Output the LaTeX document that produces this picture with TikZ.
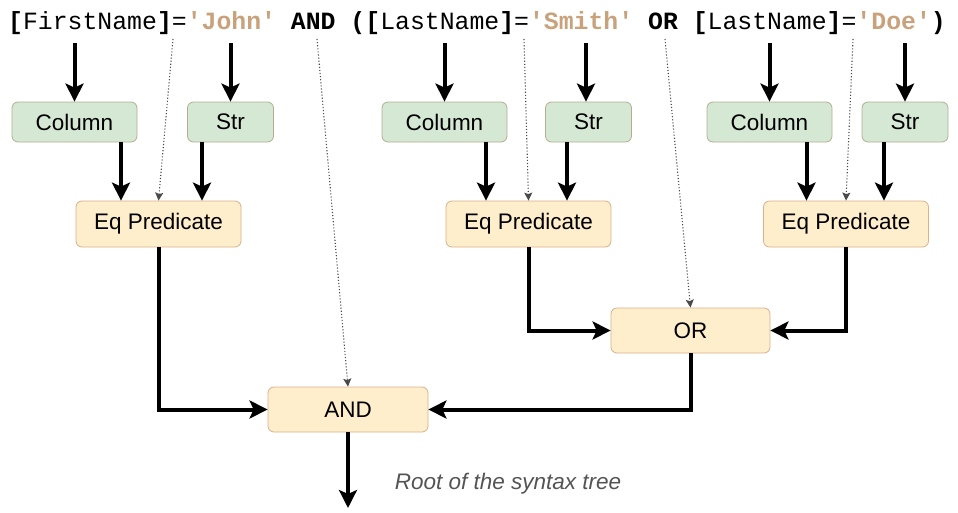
\documentclass[tikz,border=0pt]{standalone}
\usepackage{fontspec}
\setmainfont{Liberation Sans}
\setmonofont{Liberation Mono}
\usetikzlibrary{arrows.meta}
\definecolor{strc}{HTML}{C9A27C}
\definecolor{gfill}{HTML}{D5E8D4}
\definecolor{gdraw}{HTML}{B3AE92}
\definecolor{ofill}{HTML}{FFEECC}
\definecolor{odraw}{HTML}{D9B08A}
\definecolor{dotc}{HTML}{4A4A4A}
\tikzset{
  box/.style={rectangle, rounded corners=6pt, line width=0.8pt, inner sep=0pt,
    font=\fontsize{22.5}{27}\selectfont},
  gbox/.style={box, fill=gfill, draw=gdraw, minimum height=40pt},
  obox/.style={box, fill=ofill, draw=odraw, minimum height=46pt},
  arr/.style={line width=4pt, -{Stealth[length=18pt,width=18pt,inset=4pt]}},
  elbow/.style={arr, rounded corners=0pt},
  dots/.style={line width=1.1pt, dotc, dotted, -{Stealth[length=8pt,width=8pt,inset=1.5pt]}},
}
\begin{document}
\begin{tikzpicture}[x=1pt,y=-1pt]
\useasboundingbox (0,0) rectangle (958,512);
% query text
\node[anchor=base west, inner sep=0pt, font=\ttfamily\fontsize{24.8}{30}\selectfont] (q) at (8,29)
  {\textbf{[}FirstName\textbf{]}=\textcolor{strc}{\textbf{'John'}} \textbf{AND} \textbf{([}LastName\textbf{]}=\textcolor{strc}{\textbf{'Smith'}} \textbf{OR} \textbf{[}LastName\textbf{]}=\textcolor{strc}{\textbf{'Doe'}}\textbf{)}};
% boxes
\node[gbox, minimum width=125pt] (c1) at (74.5,122) {Column};
\node[gbox, minimum width=86pt]  (s1) at (230.5,122) {Str};
\node[gbox, minimum width=125pt] (c2) at (444.5,122) {Column};
\node[gbox, minimum width=86pt]  (s2) at (588.5,122) {Str};
\node[gbox, minimum width=125pt] (c3) at (769.5,122) {Column};
\node[gbox, minimum width=86pt]  (s3) at (905,122) {Str};
\node[obox, minimum width=165pt] (e1) at (158.5,224) {Eq Predicate};
\node[obox, minimum width=165pt] (e2) at (528.5,224) {Eq Predicate};
\node[obox, minimum width=165pt] (e3) at (846,224) {Eq Predicate};
\node[obox, minimum width=159pt, minimum height=45pt] (or) at (690.5,330.5) {OR};
\node[obox, minimum width=160pt, minimum height=45pt] (and) at (348,409.5) {AND};
\node[anchor=center, font=\fontsize{22.5}{27}\selectfont\itshape, text=black!67] (root) at (508,484) {Root of the syntax tree};
% coordinates under the query text
\coordinate (tc1) at (74.5,43);
\coordinate (ts1) at (230.5,43);
\coordinate (tc2) at (444.5,43);
\coordinate (ts2) at (586,43);
\coordinate (tc3) at (769.5,43);
\coordinate (ts3) at (905,43);
\coordinate (d1) at (173,39);
\coordinate (d2) at (317,39);
\coordinate (d3) at (524,39);
\coordinate (d4) at (665,39);
\coordinate (d5) at (853,39);
\coordinate (rootend) at (348,508);
% top arrows
\draw[arr] (tc1) -- (c1.north);
\draw[arr] (ts1) -- (s1.north);
\draw[arr] (tc2) -- (c2.north);
\draw[arr] (ts2) -- (ts2 |- s2.north);
\draw[arr] (tc3) -- (c3.north);
\draw[arr] (ts3) -- (s3.north);
% into eq predicates
\draw[arr] ([xshift=46.5pt]c1.south) -- ([xshift=-37.5pt]e1.north);
\draw[arr] ([xshift=-28.5pt]s1.south) -- ([xshift=43.5pt]e1.north);
\draw[arr] ([xshift=41.5pt]c2.south) -- ([xshift=-42.5pt]e2.north);
\draw[arr] ([xshift=-21.5pt]s2.south) -- ([xshift=38.5pt]e2.north);
\draw[arr] ([xshift=37pt]c3.south) -- ([xshift=-39.5pt]e3.north);
\draw[arr] ([xshift=-21pt]s3.south) -- ([xshift=38pt]e3.north);
% tree edges
\draw[elbow] (e1.south) |- (and.west);
\draw[elbow] (e2.south) |- (or.west);
\draw[elbow] (e3.south) |- (or.east);
\draw[elbow] (or.south) |- (and.east);
\draw[arr] (and.south) -- (rootend);
% dotted
\draw[dots] (d1) -- (e1.north);
\draw[dots] (d2) -- (and.north);
\draw[dots] (d3) -- (e2.north);
\draw[dots] (d4) -- (or.north);
\draw[dots] (d5) -- (e3.north);
\end{tikzpicture}
\end{document}
